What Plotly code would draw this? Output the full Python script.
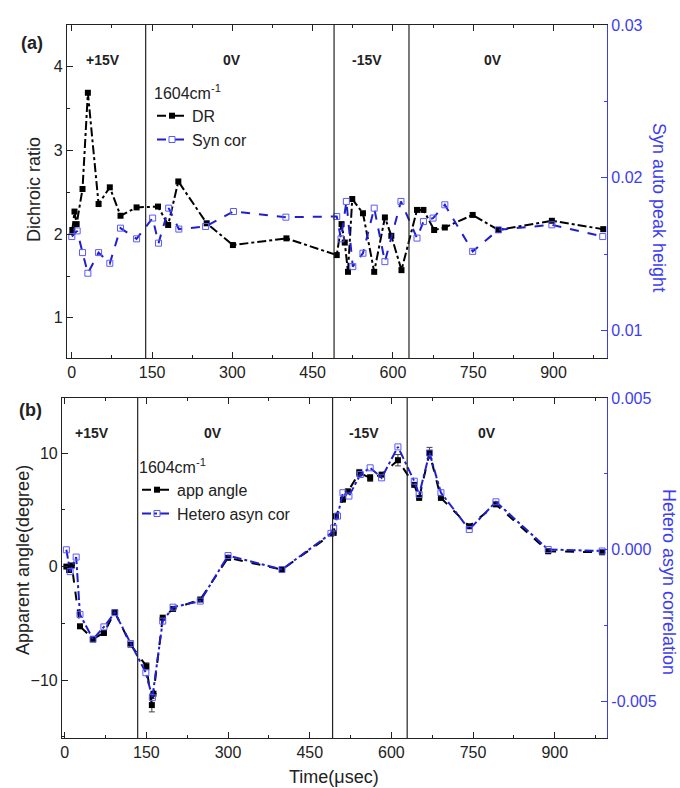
import plotly.graph_objects as go

# ---------------- data ----------------
# panel (a)
t_dr = [1, 5, 9, 20, 30, 50, 71, 91, 121, 161, 180, 199, 252, 301, 401, 495, 504, 510, 516, 524, 544, 565, 585, 597, 616, 645, 657, 677, 697, 749, 797, 897, 993]
dr = [2.05, 2.27, 2.12, 2.54, 3.69, 2.36, 2.56, 2.22, 2.32, 2.33, 2.11, 2.63, 2.13, 1.87, 1.95, 1.75, 2.12, 1.9, 1.55, 2.42, 2.25, 1.55, 2.2, 1.98, 1.57, 2.29, 2.29, 2.05, 2.08, 2.23, 2.05, 2.16, 2.06]

t_syn = [0, 10, 20, 30, 50, 71, 91, 121, 151, 162, 181, 200, 250, 302, 400, 495, 503, 513, 525, 544, 565, 585, 615, 645, 657, 675, 697, 749, 797, 897, 992]
syn = [0.01615, 0.01652, 0.0151, 0.01375, 0.0151, 0.0144, 0.0167, 0.0160, 0.01736, 0.01572, 0.01801, 0.01664, 0.01681, 0.01779, 0.01742, 0.01746, 0.0160, 0.01845, 0.01418, 0.01506, 0.01801, 0.01451, 0.01845, 0.01605, 0.01713, 0.01736, 0.01823, 0.01518, 0.01659, 0.01692, 0.01615]

# panel (b)
t_ang = [3, 8, 13, 28, 52, 72, 92, 121, 150, 160, 163, 180, 199, 249, 300, 399, 494, 498, 511, 520, 541, 561, 582, 612, 642, 651, 670, 691, 743, 792, 888, 987]
ang = [0.0, -0.3, 0.1, -5.26, -6.37, -5.85, -4.0, -6.87, -8.78, -12.2, -11.2, -4.5, -3.73, -2.9, 0.77, -0.26, 2.97, 4.43, 5.9, 6.63, 8.26, 7.81, 8.1, 9.37, 7.2, 6.05, 10.0, 6.05, 3.55, 5.48, 1.35, 1.26]
ang_err = [0, 0, 0, 0, 0, 0, 0, 0, 0.3, 0.6, 0, 0, 0, 0, 0, 0, 0, 0, 0, 0, 0.3, 0.3, 0, 0.5, 0, 0, 0.5, 0, 0, 0, 0, 0]

t_het = [3, 10, 21, 28, 52, 72, 92, 121, 149, 161, 180, 199, 249, 300, 399, 489, 494, 501, 511, 522, 543, 561, 582, 612, 642, 651, 670, 691, 743, 792, 888, 987]
het = [0.0, -0.00072, -0.00024, -0.00213, -0.00295, -0.00254, -0.00207, -0.00309, -0.00405, -0.00487, -0.00235, -0.00189, -0.00169, -0.00019, -0.00065, 0.00054, 0.00072, 0.00111, 0.00188, 0.00177, 0.00248, 0.0027, 0.00237, 0.00339, 0.00226, 0.00182, 0.00319, 0.00188, 0.00067, 0.00158, 0.00001, -0.00004]

switch_a = [138, 490, 630]
switch_b = [134, 492, 629]
volt_labels = ["+15V", "0V", "-15V", "0V"]
volt_x_a = [58, 300, 551, 787]
volt_x_b = [51, 272, 550, 776]
x_ticks = [0, 150, 300, 450, 600, 750, 900]

FONT = "Liberation Sans, Arial, sans-serif"
BLUE_AX = "#3d3df0"
BLUE_LINE = "#1f1fd0"
BLUE_MK = "#5a5aff"

# layout geometry (pixels)
W, H = 680, 788
ML, MR, MT, MB = 62, 73, 25, 50
PW, PH = W - ML - MR, H - MT - MB


def px(x):
    return (x - ML) / PW


def py(y):
    return (H - MB - y) / PH


fig = go.Figure()

fig.add_trace(go.Scatter(
    x=t_dr, y=dr, name="DR", mode="lines+markers",
    line=dict(color="black", width=2, dash="dashdot"),
    marker=dict(symbol="square", size=6, color="black"),
    xaxis="x", yaxis="y", legend="legend"))
fig.add_trace(go.Scatter(
    x=t_syn, y=syn, name="Syn cor", mode="lines+markers",
    line=dict(color=BLUE_LINE, width=2, dash="dash"),
    marker=dict(symbol="square-open", size=6, color=BLUE_MK, line=dict(width=1)),
    xaxis="x", yaxis="y2", legend="legend"))

fig.add_trace(go.Scatter(
    x=t_ang, y=ang, name="app angle", mode="lines+markers",
    line=dict(color="black", width=2, dash="dash"),
    marker=dict(symbol="square", size=6, color="black"),
    error_y=dict(type="data", array=ang_err, visible=True, color="#444", thickness=1, width=3),
    xaxis="x2", yaxis="y3", legend="legend2"))
fig.add_trace(go.Scatter(
    x=t_het, y=het, name="Hetero asyn cor", mode="lines+markers",
    line=dict(color=BLUE_LINE, width=2, dash="dashdot"),
    marker=dict(symbol="square-open", size=6, color=BLUE_MK, line=dict(width=1)),
    xaxis="x2", yaxis="y4", legend="legend2"))

# domains
a_bottom = py(358)
b_top = py(398)
xa_dom = [px(67), 1.0]
xb_dom = [0.0, 1.0]

tickfont = dict(family=FONT, size=16, color="#222")
btickfont = dict(family=FONT, size=16, color=BLUE_AX)

common_x = dict(showgrid=False, zeroline=False, showline=True, linecolor="#222", linewidth=1.2,
                mirror="ticks", ticks="inside", ticklen=6, tickcolor="#222",
                tickvals=x_ticks, tickfont=tickfont,
                minor=dict(ticks="inside", ticklen=3, dtick=75, tick0=0, tickcolor="#222", showgrid=False))

fig.update_layout(
    width=W, height=H,
    margin=dict(l=ML, r=MR, t=MT, b=MB),
    paper_bgcolor="white", plot_bgcolor="white",
    font=dict(family=FONT, size=15, color="#222"),
    showlegend=True,
    xaxis=dict(domain=xa_dom, range=[-9, 1000], anchor="y", **common_x),
    yaxis=dict(domain=[a_bottom, 1.0], range=[0.52, 4.5], anchor="x",
               showgrid=False, zeroline=False, showline=True, linecolor="#222", linewidth=1.2,
               ticks="inside", ticklen=6, tickcolor="#222", dtick=1, tick0=0, tickfont=tickfont,
               minor=dict(ticks="inside", ticklen=3, dtick=0.5, tick0=0, tickcolor="#222")),
    yaxis2=dict(domain=[a_bottom, 1.0], range=[0.0082, 0.03], anchor="x", overlaying="y", side="right",
                showgrid=False, zeroline=False, showline=True, linecolor=BLUE_AX, linewidth=1.2,
                ticks="inside", ticklen=6, tickcolor=BLUE_AX, tickvals=[0.01, 0.02, 0.03],
                ticktext=["0.01", "0.02", "0.03"], tickfont=btickfont,
                minor=dict(ticks="inside", ticklen=3, dtick=0.005, tick0=0, tickcolor=BLUE_AX)),
    xaxis2=dict(domain=xb_dom, range=[-5, 996], anchor="y3", **common_x),
    yaxis3=dict(domain=[0.0, b_top], range=[-15.1, 14.85], anchor="x2",
                showgrid=False, zeroline=False, showline=True, linecolor="#222", linewidth=1.2,
                ticks="inside", ticklen=6, tickcolor="#222", tickvals=[-10, 0, 10], tickfont=tickfont,
                minor=dict(ticks="inside", ticklen=3, dtick=5, tick0=0, tickcolor="#222")),
    yaxis4=dict(domain=[0.0, b_top], range=[-0.0062, 0.005], anchor="x2", overlaying="y3", side="right",
                showgrid=False, zeroline=False, showline=True, linecolor=BLUE_AX, linewidth=1.2,
                ticks="inside", ticklen=6, tickcolor=BLUE_AX, tickvals=[-0.005, 0, 0.005],
                ticktext=["-0.005", "0.000", "0.005"], tickfont=btickfont,
                minor=dict(ticks="inside", ticklen=3, dtick=0.0025, tick0=0, tickcolor=BLUE_AX)),
    legend=dict(x=px(152), y=py(78), xanchor="left", yanchor="top", bgcolor="rgba(0,0,0,0)",
                font=dict(family=FONT, size=16, color="#222"), tracegroupgap=0, itemwidth=30,
                title=dict(text="1604cm<sup>-1</sup>", font=dict(family=FONT, size=16, color="#222")),
                traceorder="normal"),
    legend2=dict(x=px(137), y=py(452), xanchor="left", yanchor="top", bgcolor="rgba(0,0,0,0)",
                 font=dict(family=FONT, size=16, color="#222"), tracegroupgap=0, itemwidth=30,
                 title=dict(text="1604cm<sup>-1</sup>", font=dict(family=FONT, size=16, color="#222")),
                 traceorder="normal"),
)

# vertical switching lines
for xv in switch_a:
    fig.add_shape(type="line", xref="x", yref="y domain", x0=xv, x1=xv, y0=0, y1=1,
                  line=dict(color="#222", width=1.2))
for xv in switch_b:
    fig.add_shape(type="line", xref="x2", yref="y3 domain", x0=xv, x1=xv, y0=0, y1=1,
                  line=dict(color="#222", width=1.2))

# voltage labels
for lab, xv in zip(volt_labels, volt_x_a):
    fig.add_annotation(x=xv, y=4.08, xref="x", yref="y", text="<b>%s</b>" % lab, showarrow=False,
                       xanchor="center", yanchor="middle",
                       font=dict(family=FONT, size=14, color="#222"))
for lab, xv in zip(volt_labels, volt_x_b):
    fig.add_annotation(x=xv, y=11.8, xref="x2", yref="y3", text="<b>%s</b>" % lab, showarrow=False,
                       xanchor="center", yanchor="middle",
                       font=dict(family=FONT, size=14, color="#222"))


def txt(x, y, text, size=17, color="#222", angle=0):
    fig.add_annotation(x=px(x), y=py(y), xref="paper", yref="paper", text=text, textangle=angle,
                       xanchor="center", yanchor="middle", showarrow=False,
                       font=dict(family=FONT, size=size, color=color))


# panel labels
txt(32, 43, "<b>(a)</b>", size=18)
txt(30, 410, "<b>(b)</b>", size=18)

# axis titles
txt(34, 190, "Dichroic ratio", size=18, angle=-90)
txt(659, 207, "Syn auto peak height", size=18, color=BLUE_AX, angle=90)
txt(23, 560, "Apparent angle(degree)", size=18, angle=-90)
txt(669, 582, "Hetero asyn correlation", size=18, color=BLUE_AX, angle=90)
txt(334, 777, "Time(\u03bcsec)", size=18)

fig.write_html("out.html")
